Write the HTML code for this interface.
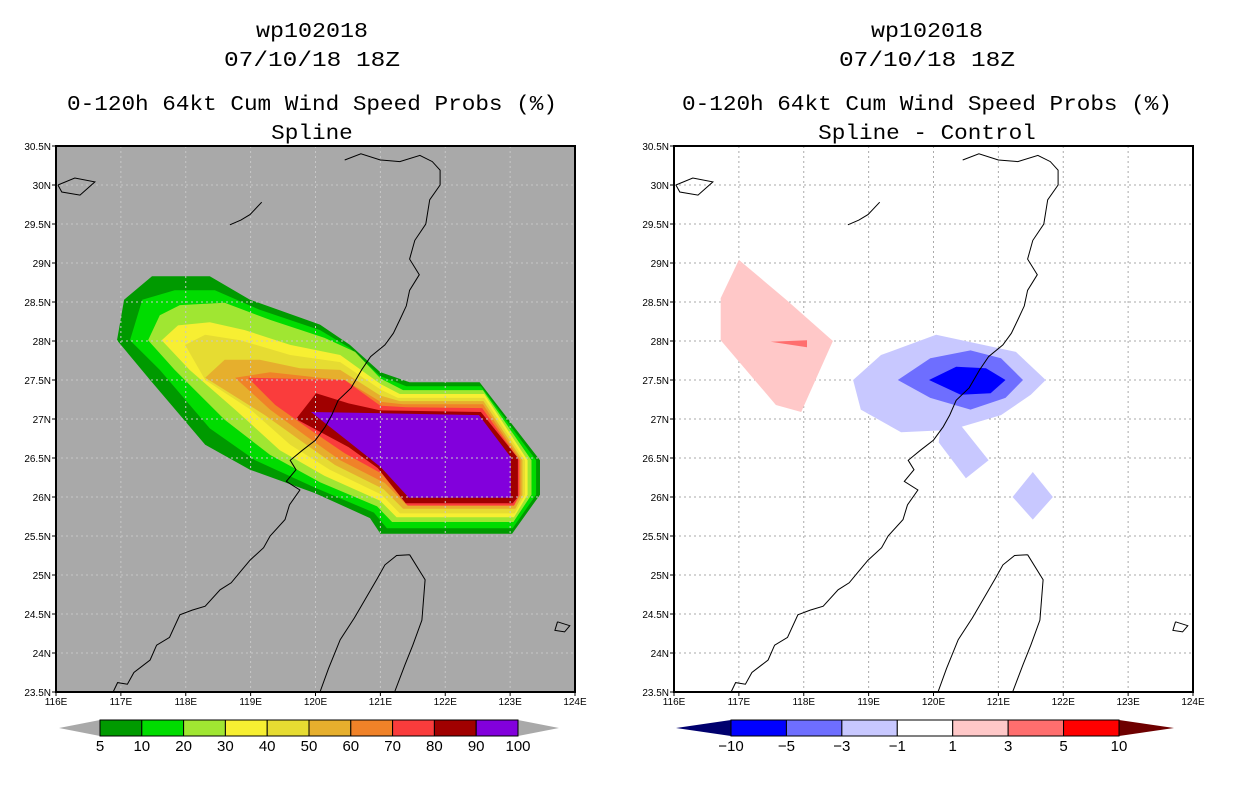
<!DOCTYPE html>
<html><head><meta charset="utf-8"><style>
html,body{margin:0;padding:0;background:#fff;}
svg{display:block;}
text{font-family:"Liberation Mono","DejaVu Sans Mono",monospace;fill:#000;}
.tk{font-family:"Liberation Sans",sans-serif;font-size:10px;}
.cb{font-family:"Liberation Sans",sans-serif;font-size:15px;}
</style></head><body>
<svg id="fig" width="1236" height="800" viewBox="0 0 1236 800" xmlns="http://www.w3.org/2000/svg">
<g id="left"></g>
<g id="right"></g>
</svg>
<script>
// ---- data ----
const lonTicks = [116,117,118,119,120,121,122,123,124];
const latTicks = [23.5,24,24.5,25,25.5,26,26.5,27,27.5,28,28.5,29,29.5,30,30.5];
const probLevels = [5,10,20,30,40,50,60,70,80,90,100];
const probColors = ["#009a00","#00dc00","#a0e632","#f7ef32","#e6dc32","#e6af2d","#f08228","#fa3c3c","#a00000","#8200dc"];
const diffLevels = [-10,-5,-3,-1,1,3,5,10];
const diffColors = ["#00006e","#0000ff","#6e6eff","#c8c8ff","#ffffff","#ffc8c8","#ff6e6e","#ff0000","#6e0000"];
// contour polygons (lon,lat) per probability level
const prob5 = [[116.94,28.01],[117.05,28.53],[117.48,28.83],[118.37,28.83],[118.99,28.53],[120.07,28.21],[120.53,27.95],[121.0,27.6],[121.45,27.47],[122.53,27.47],[123.46,26.47],[123.46,26.03],[123.03,25.53],[121.0,25.53],[120.84,25.73],[119.99,26.05],[118.99,26.35],[118.3,26.67],[117.45,27.5]];
const prob10 = [[117.14,28.01],[117.33,28.53],[117.83,28.65],[118.45,28.65],[119.14,28.4],[120.07,28.14],[120.53,27.91],[121.0,27.55],[121.4,27.42],[122.55,27.42],[123.40,26.47],[123.40,26.03],[123.04,25.60],[121.1,25.60],[120.9,25.8],[119.99,26.12],[119.07,26.47],[118.37,26.88],[117.6,27.63]];
const prob20 = [[117.42,28.01],[117.6,28.33],[117.91,28.46],[118.6,28.49],[119.3,28.27],[120.14,28.04],[120.61,27.86],[121.0,27.52],[121.35,27.37],[122.58,27.37],[123.33,26.47],[123.33,26.03],[123.05,25.68],[121.18,25.68],[120.95,25.88],[120.07,26.19],[119.3,26.54],[118.6,26.99],[117.83,27.63]];
const prob30 = [[117.63,28.01],[117.88,28.2],[118.37,28.24],[118.91,28.14],[119.61,27.95],[120.38,27.82],[121.0,27.45],[121.3,27.32],[122.6,27.32],[123.27,26.47],[123.27,26.03],[123.06,25.74],[121.25,25.74],[121.0,25.95],[120.14,26.27],[119.45,26.6],[118.76,27.12],[118.06,27.63]];
const prob40 = [[117.99,27.95],[118.3,28.08],[118.84,28.01],[119.61,27.82],[120.38,27.73],[121.0,27.38],[121.27,27.27],[122.6,27.27],[123.23,26.47],[123.23,26.03],[123.07,25.79],[121.3,25.79],[121.02,26.03],[120.22,26.35],[119.61,26.67],[119.0,27.12],[118.3,27.5]];
const prob50 = [[118.3,27.53],[118.6,27.76],[119.14,27.76],[119.76,27.65],[120.38,27.63],[121.0,27.3],[121.3,27.23],[122.59,27.23],[123.19,26.47],[123.19,26.03],[123.08,25.85],[121.35,25.85],[121.05,26.1],[120.3,26.41],[119.76,26.73],[119.22,27.05]];
const prob60 = [[118.76,27.53],[119.3,27.6],[120.07,27.53],[120.45,27.5],[121.0,27.22],[121.35,27.19],[122.58,27.19],[123.16,26.47],[123.16,26.03],[123.07,25.90],[121.4,25.90],[121.07,26.18],[120.38,26.47],[119.84,26.79],[119.3,27.12]];
const prob70 = [[118.96,27.53],[120.45,27.5],[121.0,27.17],[121.4,27.15],[122.57,27.14],[123.14,26.47],[123.14,26.03],[123.06,25.89],[121.42,25.89],[121.02,26.3],[120.45,26.56],[119.92,26.86],[119.38,27.18]];
const prob80 = [[119.7,27.0],[120.01,27.33],[120.51,27.2],[121.0,27.11],[122.55,27.09],[123.12,26.5],[123.12,26.0],[123.04,25.92],[121.39,25.92],[120.96,26.37],[120.51,26.64]];
const prob90 = [[119.93,27.09],[122.52,27.05],[123.01,26.51],[123.01,25.99],[121.44,25.99],[121.01,26.38],[120.51,26.71]];
// difference polygons (lon,lat)
const diffPos1 = [[117.0,29.04],[117.73,28.53],[118.45,28.0],[117.96,27.09],[117.57,27.18],[116.72,28.01],[116.72,28.55]];
const diffPos3 = [[117.49,27.99],[118.05,28.01],[118.05,27.92]];
const diffNeg1a = [[118.76,27.5],[119.19,27.82],[120.04,28.08],[121.27,27.86],[121.73,27.5],[121.5,27.31],[121.04,27.05],[120.27,26.86],[119.5,26.83],[118.88,27.12]];
const diffNeg1b = [[120.11,26.88],[120.42,26.92],[120.85,26.47],[120.5,26.24],[120.08,26.7]];
const diffNeg1c = [[121.53,26.32],[121.84,26.0],[121.53,25.71],[121.22,26.0]];
const diffNeg3 = [[119.45,27.5],[119.95,27.78],[120.57,27.88],[121.04,27.78],[121.38,27.5],[121.11,27.27],[120.57,27.12],[119.95,27.27]];
const diffNeg5 = [[119.93,27.5],[120.35,27.67],[120.81,27.65],[121.11,27.5],[120.88,27.33],[120.42,27.31]];
// coastlines (lon,lat)
const coastMain = [[116.88,23.5],[116.95,23.62],[117.1,23.6],[117.2,23.75],[117.45,23.91],[117.55,24.1],[117.75,24.2],[117.91,24.49],[118.1,24.55],[118.3,24.6],[118.53,24.81],[118.7,24.9],[118.85,25.05],[118.99,25.19],[119.2,25.35],[119.3,25.5],[119.53,25.71],[119.6,25.9],[119.76,26.09],[119.55,26.2],[119.7,26.35],[119.61,26.47],[119.8,26.6],[120.0,26.73],[120.15,26.9],[120.25,27.05],[120.35,27.24],[120.55,27.4],[120.71,27.63],[120.85,27.8],[121.07,27.95],[121.2,28.1],[121.3,28.27],[121.4,28.45],[121.45,28.65],[121.6,28.85],[121.45,29.05],[121.53,29.29],[121.7,29.5],[121.76,29.81],[121.92,30.0],[121.92,30.19],[121.8,30.3],[121.61,30.38],[121.3,30.3],[121.0,30.32],[120.7,30.4],[120.45,30.32]];
const coastTaiwan = [[121.45,25.26],[121.69,24.94],[121.64,24.42],[121.5,24.1],[121.38,23.85],[121.22,23.5],[120.07,23.5],[120.2,23.8],[120.38,24.17],[120.6,24.45],[120.76,24.68],[120.95,24.95],[121.07,25.13],[121.25,25.25],[121.45,25.26]];
const coastIsle1 = [[116.03,30.0],[116.29,30.09],[116.6,30.04],[116.37,29.87],[116.09,29.91],[116.03,30.0]];
const coastIsle2 = [[118.68,29.49],[118.85,29.55],[118.99,29.62],[119.17,29.78]];
const coastIsle3 = [[123.73,24.4],[123.92,24.35],[123.84,24.27],[123.69,24.29],[123.73,24.4]];

// ---- helpers ----
const NS = "http://www.w3.org/2000/svg";
const X0L = 56, X0R = 674, PW = 519, Y0 = 146, PH = 546;
function xScale(lon, x0){ return x0 + (lon - 116) / 8 * PW; }
function yScale(lat){ return Y0 + (30.5 - lat) / 7 * PH; }
function el(tag, attrs, parent){ const e = document.createElementNS(NS, tag); for (const k in attrs) e.setAttribute(k, attrs[k]); parent.appendChild(e); return e; }
function pts(poly, x0){ return poly.map(p => xScale(p[0], x0).toFixed(1) + "," + yScale(p[1]).toFixed(1)).join(" "); }
function fmtLat(v){ return (Number.isInteger(v) ? v : v.toFixed(1)) + "N"; }

function titles(g, cx, sub){
  const lines = [["wp102018",30,112],["07/10/18 18Z",59,176],["0-120h 64kt Cum Wind Speed Probs (%)",103,490],[sub,132,sub.length*13.6]];
  lines.forEach((l,i) => {
    const t = el("text", {x:cx, y:l[1]+7, "text-anchor":"middle", "font-size":"21", textLength:l[2], lengthAdjust:"spacingAndGlyphs"}, g);
    
    
    t.textContent = l[0];
  });
}

function frame(g, x0, bg){
  const r = el("rect", {x:x0, y:Y0, width:PW, height:PH, fill:bg}, g);
  
  
  return r;
}
function grid(g, x0, color){
  const gg = el("g", {stroke:color, "stroke-width":1, "stroke-dasharray":"2,3"}, g);
  
  
  lonTicks.slice(1,-1).forEach(v => el("line", {x1:xScale(v,x0), x2:xScale(v,x0), y1:Y0, y2:Y0+PH}, gg));
  latTicks.slice(1,-1).forEach(v => el("line", {x1:x0, x2:x0+PW, y1:yScale(v), y2:yScale(v)}, gg));
}
function axes(g, x0){
  const b = el("rect", {x:x0, y:Y0, width:PW, height:PH, fill:"none", stroke:"#000", "stroke-width":2}, g);
  
  
  const xa = el("g", {}, g);
  
  
  lonTicks.forEach(v => {
    const x = xScale(v, x0);
    el("line", {x1:x, x2:x, y1:Y0+PH, y2:Y0+PH+4, stroke:"#000"}, xa);
    const t = el("text", {x:x, y:Y0+PH+13, "text-anchor":"middle", class:"tk"}, xa);
    
    
    t.textContent = v + "E";
  });
  const ya = el("g", {}, g);
  
  
  latTicks.forEach(v => {
    const y = yScale(v);
    el("line", {x1:x0-4, x2:x0, y1:y, y2:y, stroke:"#000"}, ya);
    const t = el("text", {x:x0-5, y:y+4, "text-anchor":"end", class:"tk"}, ya);
    
    
    t.textContent = fmtLat(v);
  });
}
function coasts(g, x0){
  const cg = el("g", {fill:"none", stroke:"#000", "stroke-width":1}, g);
  
  
  [coastMain, coastTaiwan, coastIsle1, coastIsle2, coastIsle3].forEach(c => el("polyline", {points:pts(c, x0)}, cg));
}
function colorbar(g, x1, x2, tri, colors, labels, lowCol, highCol){
  const cb = el("g", {}, g);
  
  
  const yT = 720, yB = 736, yM = 728;
  const n = colors.length;
  const bx1 = x1 + tri, bx2 = x2 - tri, w = (bx2 - bx1) / n;
  const lt = el("polygon", {points:`${x1},${yM} ${bx1},${yT} ${bx1},${yB}`, fill:lowCol}, cb);
  
  
  const ht = el("polygon", {points:`${x2},${yM} ${bx2},${yT} ${bx2},${yB}`, fill:highCol}, cb);
  
  
  colors.forEach((c,i) => {
    const r = el("rect", {x:bx1+i*w, y:yT, width:w, height:yB-yT, fill:c, stroke:"#000", "stroke-width":1}, cb);
    
    
  });
  labels.forEach((l,i) => {
    const t = el("text", {x:bx1+i*w, y:yB+15, "text-anchor":"middle", class:"cb"}, cb);
    
    
    t.textContent = String(l).replace("-", "\u2212");
  });
}

// ---- left panel ----
const L = document.getElementById("left");
titles(L, 312, "Spline");
frame(L, X0L, "#a9a9a9");
const probPolys = [prob5,prob10,prob20,prob30,prob40,prob50,prob60,prob70,prob80,prob90];
const fg = el("g", {}, L);


probPolys.forEach((p,i) => {
  const pg = el("polygon", {points:pts(p, X0L), fill:probColors[i]}, fg);
  
  
});
grid(L, X0L, "#c8c8c8");
coasts(L, X0L);
axes(L, X0L);
colorbar(L, 59, 559, 41, probColors, probLevels, "#a9a9a9", "#a9a9a9");

// ---- right panel ----
const R = document.getElementById("right");
titles(R, 927, "Spline - Control");
frame(R, X0R, "#ffffff");
grid(R, X0R, "#aaaaaa");
const dg = el("g", {}, R);


[[diffPos1,5],[diffPos3,6],[diffNeg1a,3],[diffNeg1b,3],[diffNeg1c,3],[diffNeg3,2],[diffNeg5,1]].forEach(d => {
  const pg = el("polygon", {points:pts(d[0], X0R), fill:diffColors[d[1]]}, dg);
  
  
});
coasts(R, X0R);
axes(R, X0R);
colorbar(R, 676, 1174, 55, diffColors.slice(1,-1), diffLevels, diffColors[0], diffColors[diffColors.length-1]);
</script>
</body></html>
